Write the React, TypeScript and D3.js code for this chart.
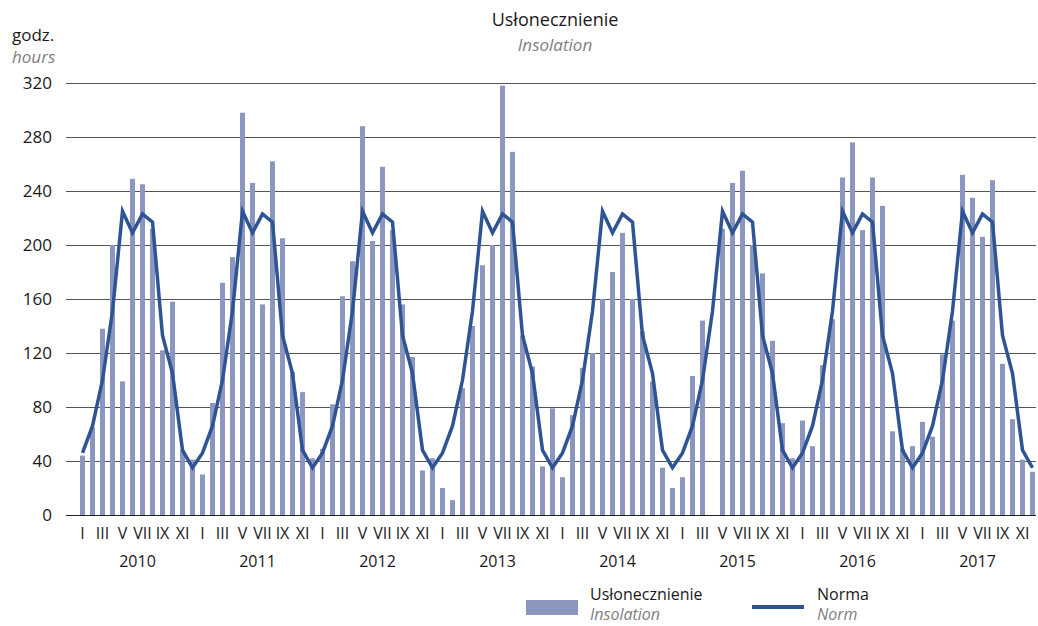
import React from "react";
import * as d3 from "d3";

const years = [2010, 2011, 2012, 2013, 2014, 2015, 2016, 2017];
const months = ["I", "II", "III", "IV", "V", "VI", "VII", "VIII", "IX", "X", "XI", "XII"];
const yTicks = [0, 40, 80, 120, 160, 200, 240, 280, 320];

const ins2010 = [44, 65, 138, 200, 99, 249, 245, 212, 122, 158, 48, 41];
const ins2011 = [30, 83, 172, 191, 298, 246, 156, 262, 205, 106, 91, 42];
const ins2012 = [49, 82, 162, 188, 288, 203, 258, 211, 156, 117, 33, 42];
const ins2013 = [20, 11, 94, 140, 185, 200, 318, 269, 133, 110, 36, 79];
const ins2014 = [28, 74, 109, 120, 160, 180, 209, 160, 136, 99, 35, 20];
const ins2015 = [28, 103, 144, null, 212, 246, 255, 200, 179, 129, 68, 42];
const ins2016 = [70, 51, 111, 145, 250, 276, 211, 250, 229, 62, 49, 51];
const ins2017 = [69, 58, 119, 144, 252, 235, 206, 248, 112, 71, 41, 32];
const norm = [46, 66, 100, 151, 225, 209, 223, 217, 133, 105, 48, 35];

const insolation: (number | null)[] = [
  ...ins2010, ...ins2011, ...ins2012, ...ins2013,
  ...ins2014, ...ins2015, ...ins2016, ...ins2017,
];

const BAR = "#8b97be";
const LINE = "#2f5494";
const GRID = "#555555";
const FONT = "'Open Sans', sans-serif";

export default function App() {
  const n = insolation.length;
  const idx = d3.range(n);
  const x = d3.scaleBand<number>().domain(idx).range([77.5, 1037.5]).paddingInner(0.5).paddingOuter(0.25);
  const y = d3.scaleLinear().domain([0, 320]).range([515, 83]);
  const cx = (i: number) => (x(i) as number) + x.bandwidth() / 2;
  const normSeries = idx.map((i) => norm[i % 12]);
  const line = d3.line<number>().x((_, i) => cx(i)).y((v) => y(v));

  return (
    <svg width={1038} height={626} style={{ position: "absolute", left: 0, top: 0, fontFamily: FONT }}>
      <rect x={0} y={0} width={1038} height={626} fill="#fff" />
      <text x={555} y={26} textAnchor="middle" fontSize={18} fill="#1a1a1a">Usłonecznienie</text>
      <text x={555} y={51} textAnchor="middle" fontSize={17} fontStyle="italic" fill="#808080">Insolation</text>
      <text x={12} y={41} fontSize={17} fill="#1a1a1a">godz.</text>
      <text x={12} y={63} fontSize={17} fontStyle="italic" fill="#808080">hours</text>

      {yTicks.map((t) => (
        <g key={t}>
          <line x1={66} x2={1036} y1={Math.round(y(t)) + 0.5} y2={Math.round(y(t)) + 0.5} stroke={t === 0 ? "#222" : GRID} strokeWidth={1} />
          <text x={52} y={y(t)} dy="0.35em" textAnchor="end" fontSize={17} fill="#1a1a1a">{t}</text>
        </g>
      ))}

      {idx.map((i) => {
        const v = insolation[i];
        if (v == null) return null;
        return <rect key={i} x={x(i)} y={y(v)} width={x.bandwidth()} height={y(0) - y(v)} fill={BAR} />;
      })}

      <path d={line(normSeries) as string} fill="none" stroke={LINE} strokeWidth={3.5} strokeLinejoin="miter" />

      {idx.filter((i) => i % 2 === 0).map((i) => (
        <text key={i} x={cx(i)} y={533} dy="0.35em" textAnchor="middle" fontSize={16} fill="#1a1a1a">{months[i % 12]}</text>
      ))}
      {years.map((yr, k) => (
        <text key={yr} x={(cx(k * 12) + cx(k * 12 + 11)) / 2} y={561} dy="0.35em" textAnchor="middle" fontSize={16} fill="#1a1a1a">{yr}</text>
      ))}

      <rect x={526} y={600} width={52} height={15} fill={BAR} />
      <text x={590} y={594} dy="0.35em" fontSize={16} fill="#1a1a1a">Usłonecznienie</text>
      <text x={590} y={614} dy="0.35em" fontSize={16} fontStyle="italic" fill="#808080">Insolation</text>
      <line x1={752} x2={804} y1={607} y2={607} stroke={LINE} strokeWidth={4} />
      <text x={817} y={594} dy="0.35em" fontSize={16} fill="#1a1a1a">Norma</text>
      <text x={817} y={614} dy="0.35em" fontSize={16} fontStyle="italic" fill="#808080">Norm</text>
    </svg>
  );
}
